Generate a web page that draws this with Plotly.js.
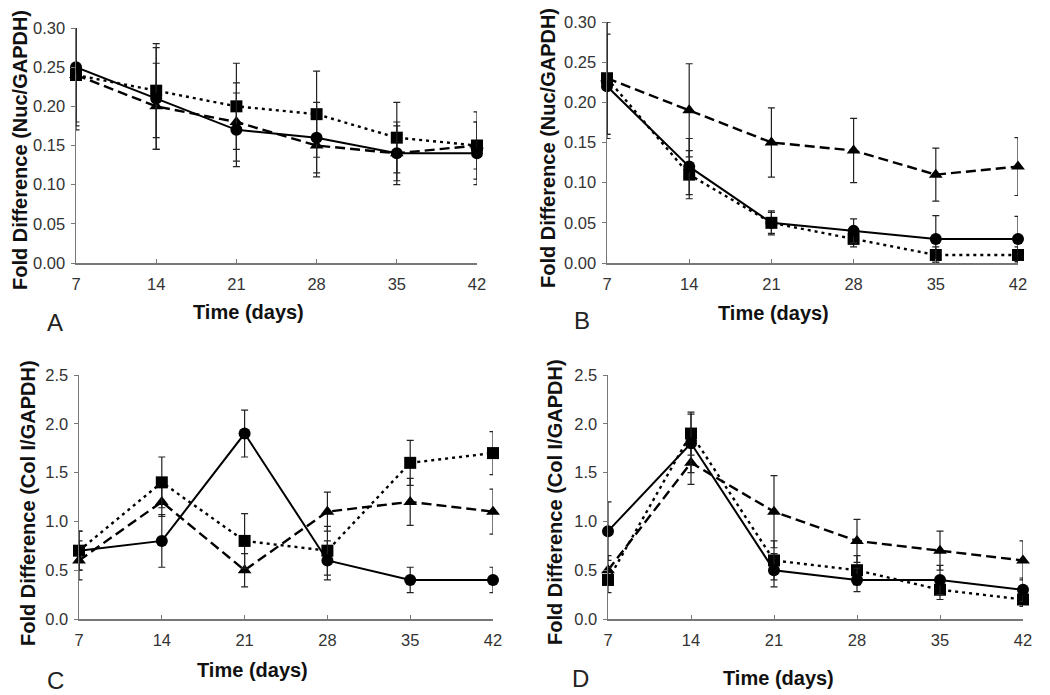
<!DOCTYPE html>
<html><head><meta charset="utf-8">
<script src="https://cdn.plot.ly/plotly-3.0.1.min.js"></script>
<style>html,body{margin:0;padding:0;background:#fff}#chart{width:1050px;height:695px}</style>
</head><body><div id="chart"></div>
<script>
// ---- data ----
const days = [7, 14, 21, 28, 35, 42];
const xTickLabels = ['7', '14', '21', '28', '35', '42'];
const nucTicks = [0, 0.05, 0.10, 0.15, 0.20, 0.25, 0.30];
const colTicks = [0, 0.5, 1.0, 1.5, 2.0, 2.5];

const A_circle = [0.25, 0.21, 0.17, 0.16, 0.14, 0.14];
const A_circleErr = [0.07, 0.065, 0.047, 0.045, 0.04, 0.04];
const A_square = [0.24, 0.22, 0.20, 0.19, 0.16, 0.15];
const A_squareErr = [0.07, 0.06, 0.055, 0.055, 0.045, 0.043];
const A_triangle = [0.24, 0.20, 0.18, 0.15, 0.14, 0.15];
const A_triangleErr = [0.065, 0.055, 0.05, 0.04, 0.035, 0.03];

const B_circle = [0.22, 0.12, 0.05, 0.04, 0.03, 0.03];
const B_circleErr = [0.065, 0.035, 0.015, 0.015, 0.029, 0.028];
const B_square = [0.23, 0.11, 0.05, 0.03, 0.01, 0.01];
const B_squareErr = [0.07, 0.03, 0.013, 0.01, 0.01, 0.01];
const B_triangle = [0.23, 0.19, 0.15, 0.14, 0.11, 0.12];
const B_triangleErr = [0.07, 0.058, 0.043, 0.04, 0.033, 0.036];

const C_circle = [0.7, 0.8, 1.9, 0.6, 0.4, 0.4];
const C_circleErr = [0.2, 0.27, 0.24, 0.2, 0.13, 0.13];
const C_square = [0.7, 1.4, 0.8, 0.7, 1.6, 1.7];
const C_squareErr = [0.2, 0.26, 0.28, 0.25, 0.23, 0.22];
const C_triangle = [0.6, 1.2, 0.5, 1.1, 1.2, 1.1];
const C_triangleErr = [0.2, 0.15, 0.17, 0.2, 0.24, 0.23];

const D_circle = [0.9, 1.8, 0.5, 0.4, 0.4, 0.3];
const D_circleErr = [0.3, 0.3, 0.17, 0.12, 0.15, 0.12];
const D_square = [0.4, 1.9, 0.6, 0.5, 0.3, 0.2];
const D_squareErr = [0.13, 0.22, 0.2, 0.15, 0.1, 0.07];
const D_triangle = [0.5, 1.6, 1.1, 0.8, 0.7, 0.6];
const D_triangleErr = [0.15, 0.22, 0.37, 0.22, 0.2, 0.2];

const panelLetters = ['A', 'B', 'C', 'D'];
const xTitle = 'Time (days)';
const yTitleNuc = 'Fold Difference (Nuc/GAPDH)';
const yTitleCol = 'Fold Difference (Col I/GAPDH)';

// ---- layout helpers ----
const W = 1050, H = 695;
const px = v => v / W;
const py = v => 1 - v / H;

const FONT = 'Liberation Sans, Arial, Helvetica, sans-serif';

function series(ax, yv, err, sym, dash) {
  return {
    type: 'scatter', mode: 'lines+markers', x: days, y: yv,
    xaxis: 'x' + ax, yaxis: 'y' + ax, cliponaxis: false,
    line: {color: '#000', width: dash === 'solid' ? 2 : 2.4, dash: dash},
    marker: {symbol: sym, size: 12, color: '#000'},
    error_y: {type: 'data', array: err, visible: true, color: '#222', thickness: 1.2, width: 3.5},
    showlegend: false, hoverinfo: 'skip'
  };
}

const DASH = '10px,5px';
const DOT = '3px,4px';

const data = [
  series('', A_triangle, A_triangleErr, 'triangle-up', DASH),
  series('', A_square, A_squareErr, 'square', DOT),
  series('', A_circle, A_circleErr, 'circle', 'solid'),
  series('2', B_triangle, B_triangleErr, 'triangle-up', DASH),
  series('2', B_square, B_squareErr, 'square', DOT),
  series('2', B_circle, B_circleErr, 'circle', 'solid'),
  series('3', C_triangle, C_triangleErr, 'triangle-up', DASH),
  series('3', C_square, C_squareErr, 'square', DOT),
  series('3', C_circle, C_circleErr, 'circle', 'solid'),
  series('4', D_triangle, D_triangleErr, 'triangle-up', DASH),
  series('4', D_square, D_squareErr, 'square', DOT),
  series('4', D_circle, D_circleErr, 'circle', 'solid')
];

function xax(x0, x1, anchor) {
  return {
    domain: [px(x0), px(x1)], range: [7, 42], anchor: anchor,
    tickmode: 'array', tickvals: days, ticktext: xTickLabels,
    showline: true, linecolor: '#777', linewidth: 1.5,
    ticks: 'inside', ticklen: 4, tickcolor: '#777', ticklabelstandoff: 6,
    showgrid: false, zeroline: false,
    tickfont: {family: FONT, size: 16.5, color: '#333'}
  };
}
function yax(y0, y1, top, ticks, fmt, anchor) {
  return {
    domain: [py(y1), py(y0)], range: [0, top], anchor: anchor,
    tickmode: 'array', tickvals: ticks, tickformat: fmt,
    showline: true, linecolor: '#777', linewidth: 1.5,
    ticks: 'outside', ticklen: 4, tickcolor: '#777', ticklabelstandoff: 2,
    showgrid: false, zeroline: false,
    tickfont: {family: FONT, size: 16.5, color: '#333'}
  };
}

const titleFont = {family: FONT, size: 20, color: '#111'};
function ann(text, x, y, angle, font) {
  return {text: text, xref: 'paper', yref: 'paper', x: px(x), y: py(y),
    xanchor: 'center', yanchor: 'middle', showarrow: false, textangle: angle || 0, font: font};
}
const letterFont = {family: FONT, size: 24, color: '#222'};

const layout = {
  width: W, height: H, margin: {l: 0, r: 0, t: 0, b: 0},
  paper_bgcolor: '#fff', plot_bgcolor: '#fff', showlegend: false,
  xaxis: xax(76, 477, 'y'),
  yaxis: yax(28, 263, 0.30, nucTicks, '.2f', 'x'),
  xaxis2: xax(607, 1018, 'y2'),
  yaxis2: yax(22, 263, 0.30, nucTicks, '.2f', 'x2'),
  xaxis3: xax(79, 493, 'y3'),
  yaxis3: yax(375, 619, 2.5, colTicks, '.1f', 'x3'),
  xaxis4: xax(608, 1023, 'y4'),
  yaxis4: yax(375, 619, 2.5, colTicks, '.1f', 'x4'),
  annotations: [
    ann('<b>' + xTitle + '</b>', 248, 312, 0, titleFont),
    ann('<b>' + xTitle + '</b>', 773, 313, 0, titleFont),
    ann('<b>' + xTitle + '</b>', 252, 670, 0, titleFont),
    ann('<b>' + xTitle + '</b>', 778, 678, 0, titleFont),
    ann('<b>' + yTitleNuc + '</b>', 20, 150, -90, titleFont),
    ann('<b>' + yTitleNuc + '</b>', 548, 148, -90, titleFont),
    ann('<b>' + yTitleCol + '</b>', 28, 503, -90, titleFont),
    ann('<b>' + yTitleCol + '</b>', 555, 502, -90, titleFont),
    ann(panelLetters[0], 55, 323, 0, letterFont),
    ann(panelLetters[1], 582, 320, 0, letterFont),
    ann(panelLetters[2], 55, 680, 0, letterFont),
    ann(panelLetters[3], 580, 678, 0, letterFont)
  ]
};

Plotly.newPlot('chart', data, layout, {displayModeBar: false, staticPlot: true});
</script>
</body></html>
